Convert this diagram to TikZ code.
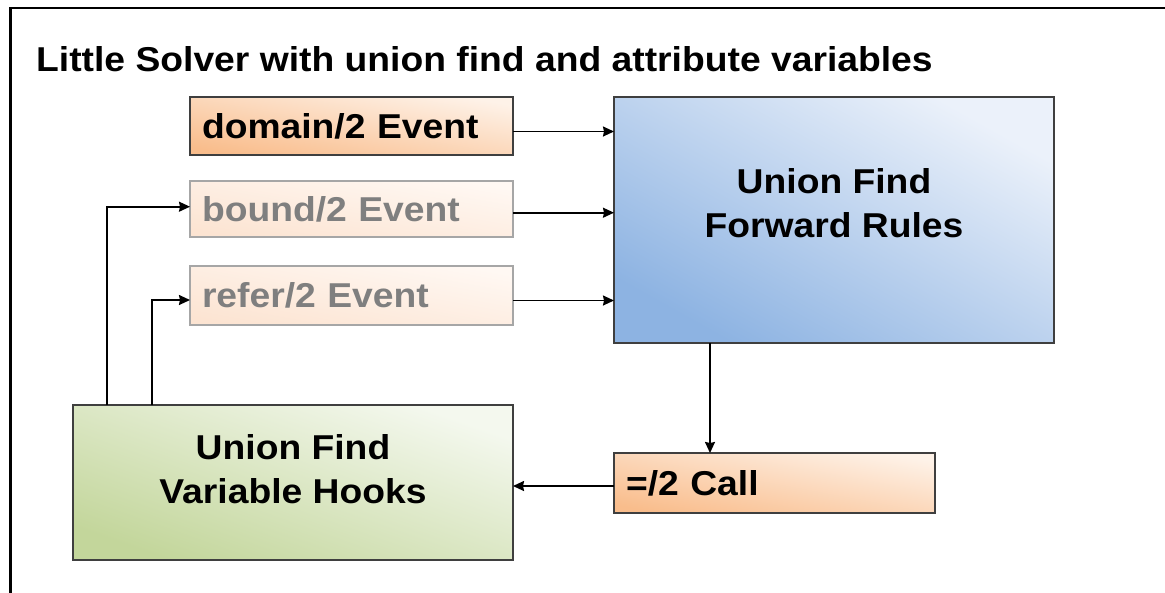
\documentclass[tikz,border=0pt]{standalone}
\usepackage{fontspec}
\setmainfont{Liberation Sans}[FakeStretch=1.08]
\usetikzlibrary{arrows.meta,calc}
\definecolor{orDark}{HTML}{F9BD8C}
\definecolor{orLight}{HTML}{FEF2E8}
\definecolor{fadeDark}{HTML}{FCE4D2}
\definecolor{fadeLight}{HTML}{FFF8F3}
\definecolor{blDark}{HTML}{8DB3E2}
\definecolor{blLight}{HTML}{EBF1FA}
\definecolor{grDark}{HTML}{C3D69B}
\definecolor{grLight}{HTML}{F4F8EE}
\definecolor{boxline}{HTML}{3F3F3F}
\definecolor{fadeline}{HTML}{A6A6A6}
\definecolor{fadetext}{HTML}{7F7F7F}
\begin{document}
\begin{tikzpicture}[x=1pt,y=-1pt,
  bigfont/.style={font=\fontsize{34.5}{44}\selectfont\bfseries},
  box/.style={draw=boxline, line width=1.4pt, inner ysep=0pt, outer sep=0pt, anchor=north west, bigfont},
  evbox/.style={box, align=left, inner xsep=12pt, top color=orLight, bottom color=orDark},
  fadebox/.style={evbox, draw=fadeline, text=fadetext, top color=fadeLight, bottom color=fadeDark},
  bluebox/.style={box, top color=blLight, bottom color=blDark},
  greenbox/.style={box, top color=grLight, bottom color=grDark},
  boxtext/.style={bigfont, align=center, inner sep=0pt},
  conn/.style={line width=1.6pt, -{Stealth[length=11pt,width=10pt,inset=1pt]}},
  frameline/.style={line width=2.5pt, line join=miter}
]
\useasboundingbox (0,0) rectangle (1165,592);
\fill[white] (0,0) rectangle (1165,592);
\draw[frameline] (10.5,600) -- (10.5,7.8) -- (1170,7.8);

\node[bigfont, anchor=base west, inner sep=0pt] (title) at (36,71) {Little Solver with union find and attribute variables};

\node[evbox, minimum width=323pt, minimum height=58pt, text width=299pt, shading angle=-10.2] (dom) at (190,97) {domain/2 Event};
\node[fadebox, minimum width=323pt, minimum height=56pt, text width=299pt, shading angle=-9.8] (bnd) at (190,181) {bound/2 Event};
\node[fadebox, minimum width=323pt, minimum height=59pt, text width=299pt, shading angle=-10.3] (ref) at (190,266) {refer/2 Event};

\node[bluebox, minimum width=440pt, minimum height=246pt, shading angle=-29.2] (blue) at (614,97) {};
\node[boxtext] (bluetext) at (834,203) {Union Find\\Forward Rules};

\node[evbox, minimum width=321pt, minimum height=60pt, text width=297pt, shading angle=-10.6] (call) at (614,453) {=/2 Call};

\node[greenbox, minimum width=440pt, minimum height=155pt, shading angle=-19.4] (green) at (73,405) {};
\node[boxtext] (greentext) at (293,469) {Union Find\\Variable Hooks};

% event boxes -> forward rules
\coordinate (d1) at ($(dom.east)+(0,5.5)$);
\coordinate (d2) at ($(bnd.east)+(0,3.7)$);
\coordinate (d3) at ($(ref.east)+(0,5)$);
\draw[conn] (d1) -- (d1 -| blue.west);
\draw[conn] (d2) -- (d2 -| blue.west);
\draw[conn] (d3) -- (d3 -| blue.west);

% forward rules -> call
\coordinate (b1) at ($(blue.south west)+(96,0)$);
\draw[conn] (b1) -- (b1 |- call.north);

% call -> hooks
\coordinate (c1) at ($(call.west)+(0,3)$);
\draw[conn] (c1) -- (c1 -| green.east);

% hooks -> bound / refer
\coordinate (g1) at ($(green.north west)+(33.7,0)$);
\coordinate (g2) at ($(green.north west)+(78.7,0)$);
\coordinate (e1) at ($(bnd.west)+(0,-2.3)$);
\coordinate (e2) at ($(ref.west)+(0,4.5)$);
\draw[conn] (g1) |- (e1);
\draw[conn] (g2) |- (e2);
\end{tikzpicture}
\end{document}
